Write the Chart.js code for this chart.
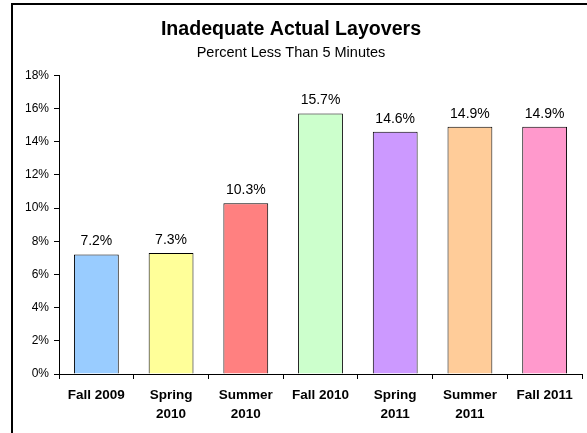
<!DOCTYPE html>
<html>
<head>
<meta charset="utf-8">
<script src="https://cdn.jsdelivr.net/npm/chart.js@4"></script>
<style>
html,body{margin:0;padding:0;background:#fff;}
#wrap{position:relative;width:587px;height:433px;}
</style>
</head>
<body>
<div id="wrap"><canvas id="c" width="587" height="433"></canvas></div>
<script>
const categories = [["Fall 2009"], ["Spring", "2010"], ["Summer", "2010"], ["Fall 2010"], ["Spring", "2011"], ["Summer", "2011"], ["Fall 2011"]];
const values = [7.2, 7.3, 10.3, 15.7, 14.6, 14.9, 14.9];
const barColors = ["#99CCFF", "#FFFF99", "#FF8080", "#CCFFCC", "#CC99FF", "#FFCC99", "#FF99CC"];
const yTicks = [0, 2, 4, 6, 8, 10, 12, 14, 16, 18];
const titleText = "Inadequate Actual Layovers";
const subtitleText = "Percent Less Than 5 Minutes";

const FONT = "Arial, 'Liberation Sans', sans-serif";

const frame = {
  id: 'frame',
  beforeDraw(chart) {
    const ctx = chart.ctx;
    ctx.save();
    ctx.fillStyle = '#fff';
    ctx.fillRect(0, 0, chart.width, chart.height);
    ctx.fillStyle = '#000';
    ctx.fillRect(11, 3, 2, chart.height);
    ctx.fillRect(11, 3, chart.width, 2);
    ctx.restore();
  }
};

const valueLabels = {
  id: 'valueLabels',
  afterDatasetsDraw(chart) {
    const ctx = chart.ctx;
    const meta = chart.getDatasetMeta(0);
    ctx.save();
    ctx.font = "14px " + FONT;
    ctx.fillStyle = '#000';
    ctx.textAlign = 'center';
    ctx.textBaseline = 'middle';
    meta.data.forEach((bar, i) => {
      ctx.fillText(values[i].toFixed(1) + '%', bar.x, bar.y - 13);
    });
    ctx.restore();
  }
};

new Chart(document.getElementById('c'), {
  type: 'bar',
  data: {
    labels: categories,
    datasets: [{
      data: values,
      backgroundColor: barColors,
      borderColor: '#000',
      borderWidth: 1,
      barPercentage: 0.6,
      categoryPercentage: 1.0
    }]
  },
  options: {
    responsive: false,
    animation: false,
    devicePixelRatio: 1,
    layout: { padding: { left: 0, right: 5, top: 10, bottom: 0 } },
    plugins: {
      legend: { display: false },
      tooltip: { enabled: false },
      title: {
        display: true,
        text: titleText,
        color: '#000',
        font: { family: FONT, size: 19.6, weight: 'bold', lineHeight: 1.2 },
        padding: { top: 8, bottom: 2 }
      },
      subtitle: {
        display: true,
        text: subtitleText,
        color: '#000',
        font: { family: FONT, size: 14.5, weight: 'normal', lineHeight: 1.2 },
        padding: { top: 1, bottom: 13.5 }
      }
    },
    scales: {
      x: {
        grid: { display: true, drawOnChartArea: false, drawTicks: true, tickLength: 5, color: '#000', offset: true },
        border: { display: true, color: '#000', width: 1 },
        ticks: {
          color: '#000',
          font: { family: FONT, size: 13.5, weight: 'bold', lineHeight: 1.37 },
          padding: 7.5,
          maxRotation: 0,
          autoSkip: false
        },
        afterFit(scale) { scale.height = 59; }
      },
      y: {
        min: 0,
        max: 18,
        afterBuildTicks(scale) { scale.ticks = yTicks.map(v => ({ value: v })); },
        grid: { display: true, drawOnChartArea: false, drawTicks: true, tickLength: 5, color: '#000' },
        border: { display: true, color: '#000', width: 1 },
        ticks: {
          color: '#000',
          font: { family: FONT, size: 12 },
          padding: 5,
          callback: v => v + '%'
        },
        afterFit(scale) { scale.width = 59; }
      }
    }
  },
  plugins: [frame, valueLabels]
});
</script>
</body>
</html>
